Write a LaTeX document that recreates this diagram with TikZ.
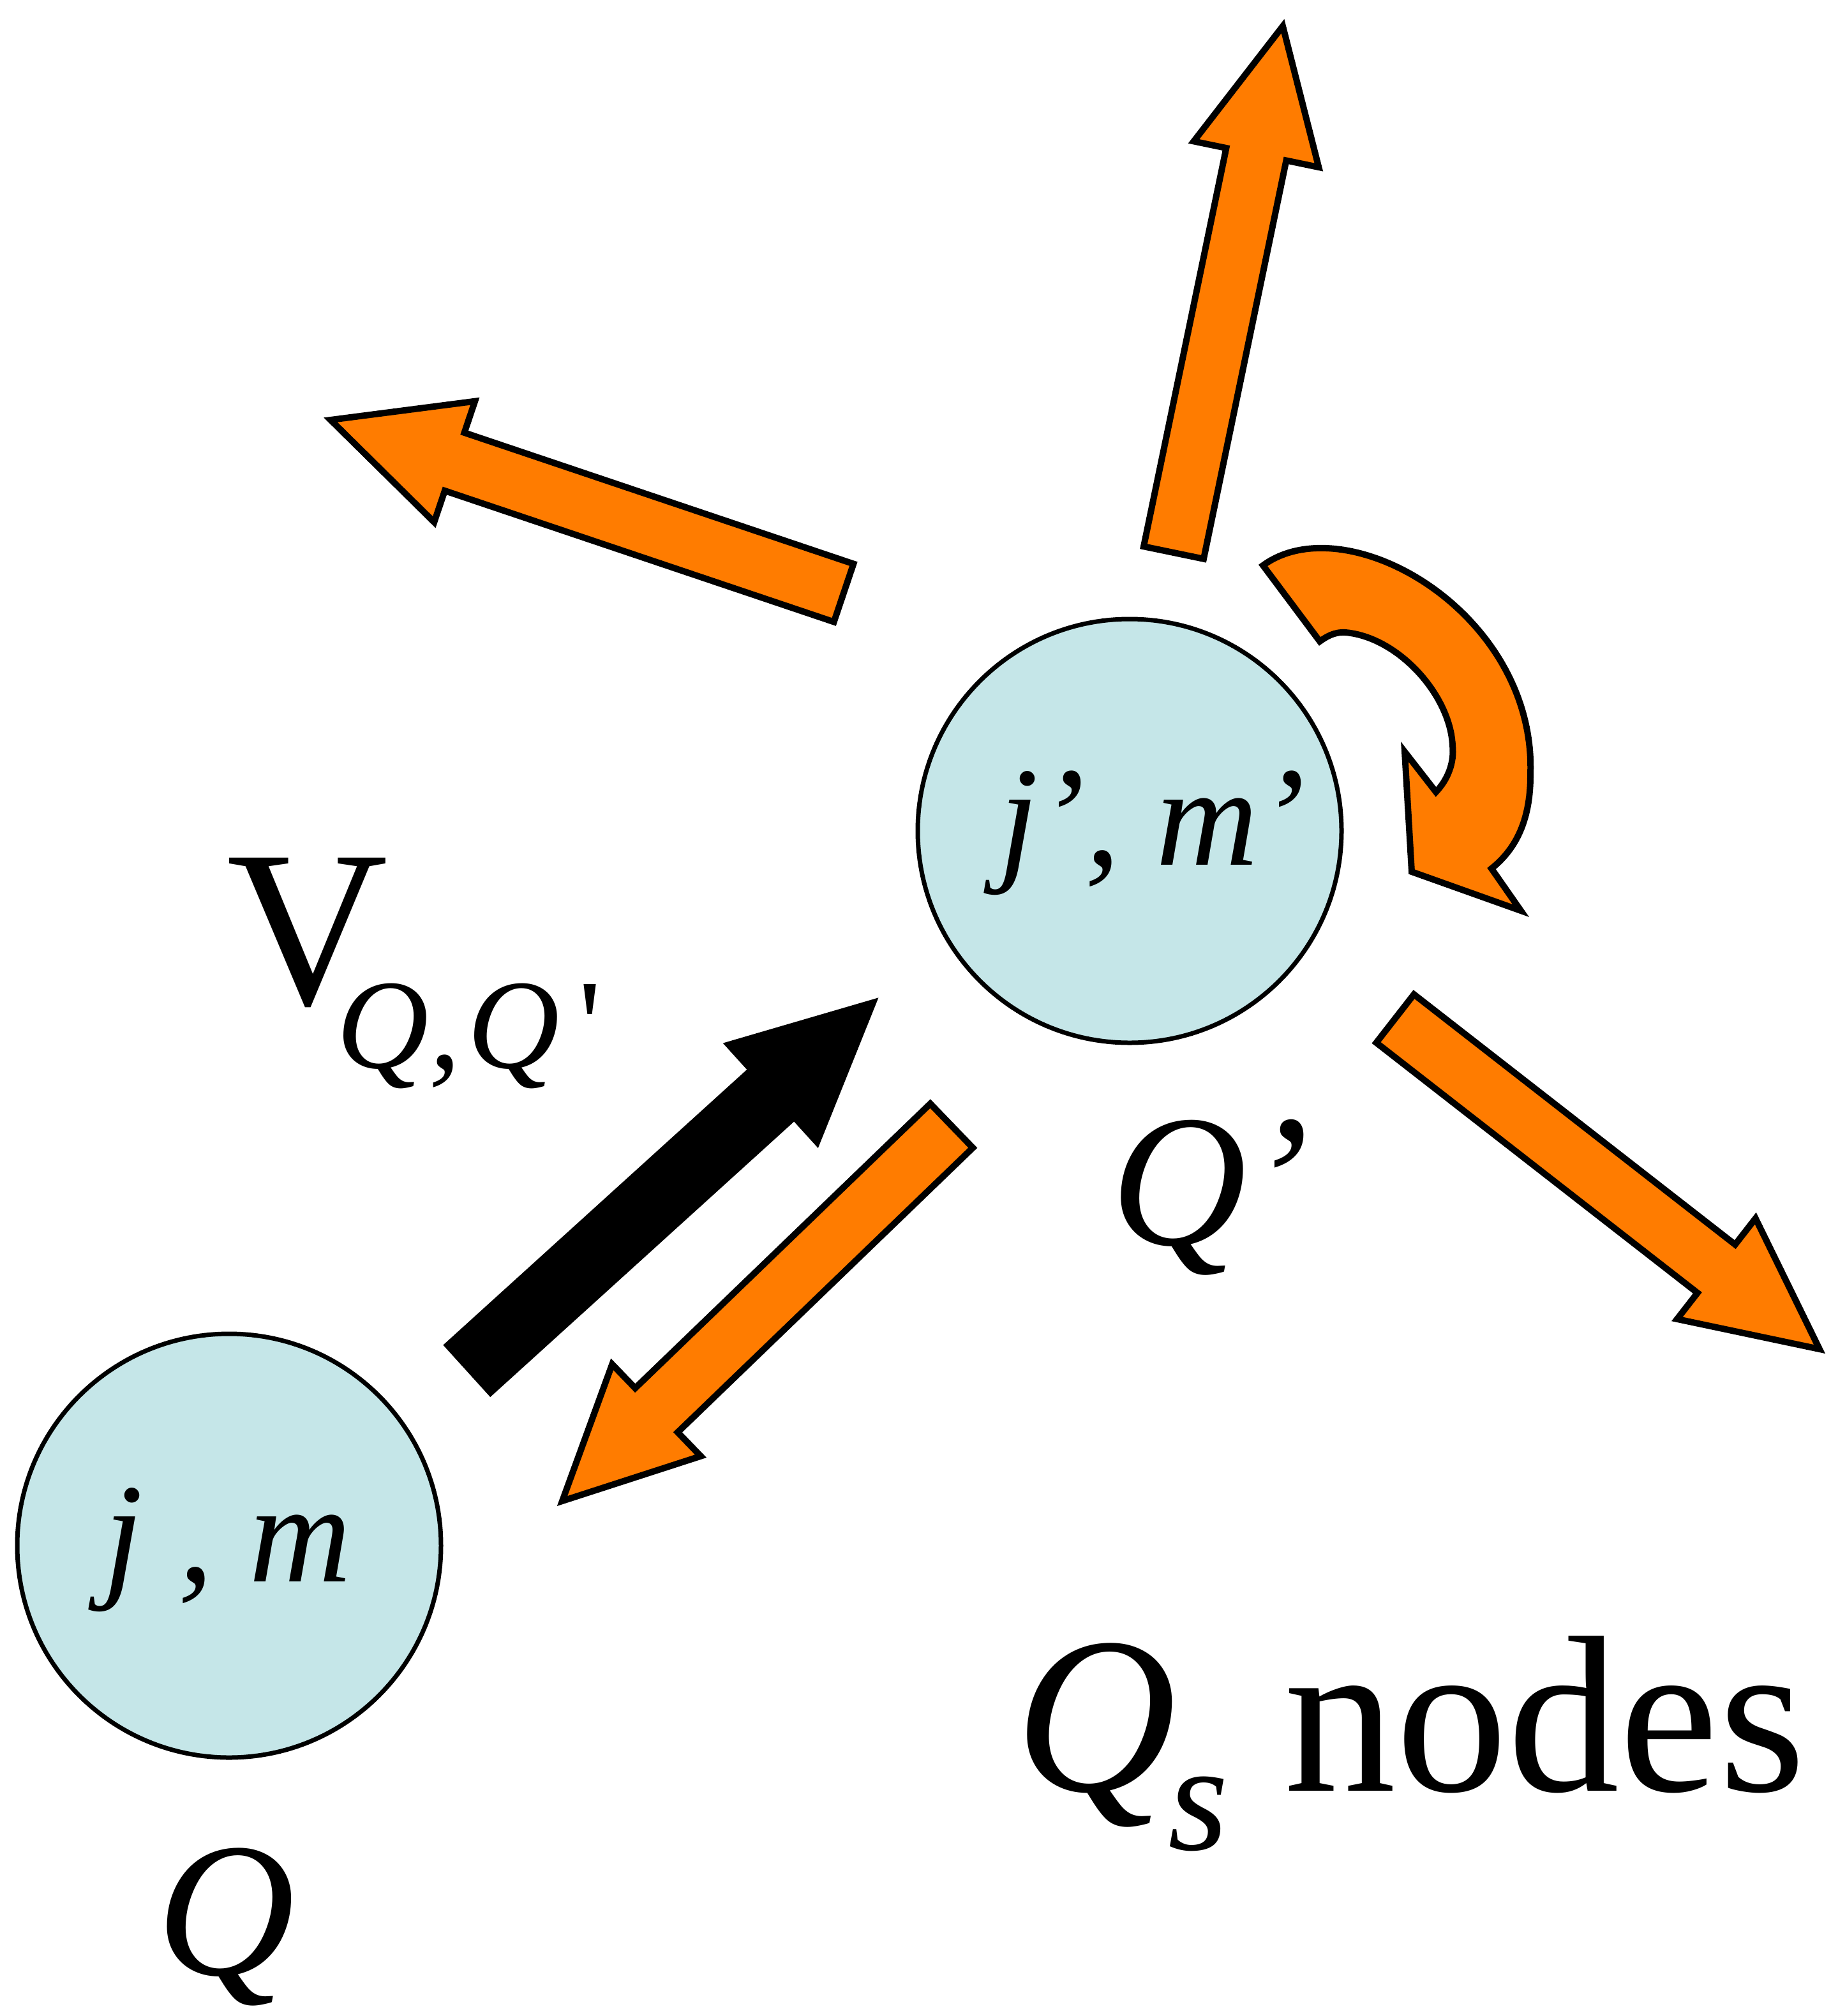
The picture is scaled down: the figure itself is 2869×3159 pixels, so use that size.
\documentclass[tikz,border=0pt]{standalone}
\usepackage{fontspec}
\setmainfont{Liberation Serif}
\usetikzlibrary{calc}
\definecolor{arroworange}{RGB}{255,124,0}
\definecolor{nodeblue}{RGB}{197,230,232}
% #1 style, #2 tail coordinate, #3 tip coordinate, #4 half shaft width, #5 half head width, #6 head length
\newcommand\blockarrow[6]{%
  \coordinate (#2-hb) at ($(#3)!#6!(#2)$);
  \filldraw[#1] ($(#2)!#4!90:(#3)$) -- ($(#2-hb)!#4!-90:(#2)$) -- ($(#2-hb)!#5!-90:(#2)$)
     -- (#3) -- ($(#2-hb)!#5!90:(#2)$) -- ($(#2-hb)!#4!90:(#2)$) -- ($(#2)!#4!-90:(#3)$) -- cycle;
}
\tikzset{
  ball/.style={circle, draw=black, line width=7pt, fill=nodeblue, minimum size=664pt, inner sep=0pt},
  orangearrow/.style={fill=arroworange, draw=black, line width=10pt, line join=miter},
  blackarrow/.style={fill=black, draw=black, line width=10pt, line join=miter},
  txt/.style={inner sep=0pt, outer sep=0pt, anchor=base west, text=black},
}
\begin{document}
\begin{tikzpicture}[x=1pt, y=-1pt]
\useasboundingbox (0,0) rectangle (2869,3159);
\fill[white] (0,0) rectangle (2869,3159);

% nodes
\node[ball] (Qp) at (1770,1302) {};
\node[ball] (Q) at (359,2422) {};
\node[txt] (Qptxt) at (1565,1355) {\fontsize{222pt}{260pt}\selectfont\itshape j’, m’};
\node[txt] (Qtxt) at (162,2478) {\fontsize{222pt}{260pt}\selectfont\itshape j , m};

% labels
\node[txt] (Qplabel) at (1740,1950) {\fontsize{295pt}{340pt}\selectfont\itshape Q’};
\node[txt] (Qlabel) at (245,3094) {\fontsize{300pt}{340pt}\selectfont\itshape Q};
\node[txt] (Vlabel) at (355,1573) {\fontsize{350pt}{400pt}\selectfont V\hspace{-80pt}\raisebox{-100pt}{\fontsize{200pt}{240pt}\selectfont\itshape Q,\hspace{10pt}Q\hspace{30pt}\upshape\textquotesingle}};
\node[txt] (Qs) at (1590,2806) {\fontsize{350pt}{400pt}\selectfont\itshape Q\hspace{-12pt}\raisebox{-92pt}{\fontsize{243pt}{280pt}\selectfont s} {\upshape nodes}};

% arrow end points
\coordinate (upT) at (1839,866);   \coordinate (upP) at (2010,41);
\coordinate (luT) at (1322,929);   \coordinate (luP) at (518,658);
\coordinate (drT) at (2186,1596);  \coordinate (drP) at (2851,2114);
\coordinate (bkT) at (735,2145);   \coordinate (bkP) at (1368,1571);
\coordinate (dlT) at (1491,1764);  \coordinate (dlP) at (881,2352);

\blockarrow{orangearrow}{upT}{upP}{48pt}{100pt}{205pt}
\blockarrow{orangearrow}{luT}{luP}{48pt}{100pt}{205pt}
\blockarrow{orangearrow}{drT}{drP}{48pt}{100pt}{205pt}
\blockarrow{orangearrow}{dlT}{dlP}{48pt}{100pt}{205pt}
\blockarrow{blackarrow}{bkT}{bkP}{50pt}{103pt}{212pt}

% curved self-loop arrow
\filldraw[orangearrow]
  (1979,886) .. controls (2110,790) and (2408,960) .. (2398,1215)
  .. controls (2398,1290) and (2372,1333) .. (2337,1361)
  -- (2383,1427) -- (2212,1366) -- (2201,1178) -- (2250,1241)
  .. controls (2268,1222) and (2279,1196) .. (2276,1168)
  .. controls (2272,1088) and (2190,998) .. (2108,991)
  .. controls (2090,990) and (2078,998) .. (2068,1005)
  -- cycle;
\end{tikzpicture}
\end{document}
